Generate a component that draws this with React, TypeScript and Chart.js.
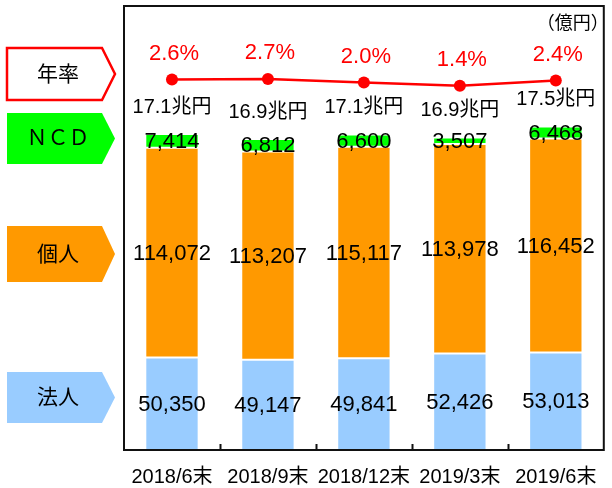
import React, { useEffect, useRef } from "react";
import { Chart, registerables } from "chart.js";

Chart.register(...registerables);

const categories = ["2018/6末", "2018/9末", "2018/12末", "2019/3末", "2019/6末"];
const corporate = [50350, 49147, 49841, 52426, 53013];
const individual = [114072, 113207, 115117, 113978, 116452];
const ncd = [7414, 6812, 6600, 3507, 6468];
const annualRate = [2.6, 2.7, 2.0, 1.4, 2.4];
const totalLabels = ["17.1兆円", "16.9兆円", "17.1兆円", "16.9兆円", "17.5兆円"];
const seriesNames = { corporate: "法人", individual: "個人", ncd: "ＮＣＤ", rate: "年率" };
const unitLabel = "（億円）";

const FONT = "'Liberation Sans', 'Noto Sans CJK JP', Arial, sans-serif";
const COLORS = {
  corporate: "#99CCFF",
  individual: "#FF9900",
  ncd: "#00FF00",
  rate: "#FF0000",
};

const fmt = (v: number) => v.toLocaleString("en-US");

const overlayPlugin = {
  id: "overlay",
  afterDatasetsDraw(chart: any) {
    const ctx = chart.ctx;
    const area = chart.chartArea;
    const xScale = chart.scales.x;
    ctx.save();

    // frame
    ctx.strokeStyle = "#111";
    ctx.lineWidth = 2;
    ctx.beginPath();
    ctx.rect(area.left, area.top, area.right - area.left, area.bottom - area.top);
    ctx.stroke();
    // inner ticks (upward) at category boundaries
    const n = categories.length;
    for (let i = 0; i < n - 1; i++) {
      const bx = (xScale.getPixelForValue(i) + xScale.getPixelForValue(i + 1)) / 2;
      ctx.beginPath();
      ctx.moveTo(Math.round(bx) + 0.5, area.bottom);
      ctx.lineTo(Math.round(bx) + 0.5, area.bottom - 6);
      ctx.stroke();
    }

    // segment value labels
    ctx.fillStyle = "#000";
    ctx.textAlign = "center";
    ctx.textBaseline = "middle";
    ctx.font = `22px ${FONT}`;
    const barSets = [0, 1, 2];
    barSets.forEach((di) => {
      const meta = chart.getDatasetMeta(di);
      const ds = chart.data.datasets[di];
      meta.data.forEach((el: any, i: number) => {
        const cy = (el.y + el.base) / 2;
        ctx.fillText(fmt(ds.data[i]), el.x, cy + 1);
      });
    });

    // totals above stacks
    ctx.font = `20px ${FONT}`;
    const topMeta = chart.getDatasetMeta(2);
    topMeta.data.forEach((el: any, i: number) => {
      ctx.fillText(totalLabels[i], el.x, el.y - 27);
    });

    // rate labels
    const lineMeta = chart.getDatasetMeta(3);
    ctx.fillStyle = COLORS.rate;
    ctx.font = `22px ${FONT}`;
    lineMeta.data.forEach((el: any, i: number) => {
      ctx.fillText(`${annualRate[i].toFixed(1)}%`, el.x + 2, el.y - 26);
    });

    // unit label
    ctx.fillStyle = "#000";
    ctx.font = `18px ${FONT}`;
    ctx.textAlign = "right";
    ctx.fillText(unitLabel, area.right + 5, 24);

    // left legend arrows
    const boxes = [
      { name: seriesNames.rate, top: 48, bottom: 100, fill: "#FFFFFF", stroke: COLORS.rate },
      { name: seriesNames.ncd, top: 113, bottom: 164, fill: COLORS.ncd, stroke: null },
      { name: seriesNames.individual, top: 226, bottom: 282, fill: COLORS.individual, stroke: null },
      { name: seriesNames.corporate, top: 372, bottom: 423, fill: COLORS.corporate, stroke: null },
    ];
    boxes.forEach((b) => {
      const mid = (b.top + b.bottom) / 2;
      ctx.beginPath();
      ctx.moveTo(7, b.top);
      ctx.lineTo(102, b.top);
      ctx.lineTo(115, mid);
      ctx.lineTo(102, b.bottom);
      ctx.lineTo(7, b.bottom);
      ctx.closePath();
      ctx.fillStyle = b.fill;
      ctx.fill();
      if (b.stroke) {
        ctx.strokeStyle = b.stroke;
        ctx.lineWidth = 2.5;
        ctx.stroke();
      }
      ctx.fillStyle = "#000";
      ctx.font = `21px ${FONT}`;
      ctx.textAlign = "center";
      ctx.textBaseline = "middle";
      ctx.fillText(b.name, 58, mid + 1);
    });

    ctx.restore();
  },
};

export default function App() {
  const ref = useRef<HTMLCanvasElement | null>(null);

  useEffect(() => {
    document.body.style.margin = "0";
    if (!ref.current) return;
    Chart.defaults.font.family = FONT;
    const chart = new Chart(ref.current, {
      type: "bar",
      data: {
        labels: categories,
        datasets: [
          {
            type: "bar",
            label: seriesNames.corporate,
            data: corporate,
            backgroundColor: COLORS.corporate,
            borderColor: "#FFFFFF",
            borderWidth: 1,
            borderSkipped: false,
            stack: "deposit",
            yAxisID: "y",
            order: 2,
          },
          {
            type: "bar",
            label: seriesNames.individual,
            data: individual,
            backgroundColor: COLORS.individual,
            borderColor: "#FFFFFF",
            borderWidth: 1,
            borderSkipped: false,
            stack: "deposit",
            yAxisID: "y",
            order: 2,
          },
          {
            type: "bar",
            label: seriesNames.ncd,
            data: ncd,
            backgroundColor: COLORS.ncd,
            borderColor: "#FFFFFF",
            borderWidth: 1,
            borderSkipped: false,
            stack: "deposit",
            yAxisID: "y",
            order: 2,
          },
          {
            type: "line",
            label: seriesNames.rate,
            data: annualRate,
            borderColor: COLORS.rate,
            backgroundColor: COLORS.rate,
            borderWidth: 2.5,
            pointRadius: 6,
            pointBackgroundColor: COLORS.rate,
            pointBorderWidth: 0,
            tension: 0,
            yAxisID: "y1",
            stack: "rate",
            order: 1,
          } as any,
        ],
      },
      options: {
        responsive: false,
        animation: false,
        layout: { padding: { left: 124, top: 5, right: 3, bottom: 0 } },
        datasets: { bar: { barPercentage: 0.556, categoryPercentage: 1 } },
        plugins: { legend: { display: false }, tooltip: { enabled: false } },
        scales: {
          x: {
            type: "category",
            offset: true,
            grid: { display: false, drawTicks: false },
            border: { display: false },
            ticks: { color: "#000", font: { size: 20, family: FONT }, padding: 15, maxRotation: 0 },
            afterFit: (scale: any) => {
              scale.height = 38;
            },
          },
          y: {
            stacked: true,
            display: false,
            min: 0,
            max: 241500,
          },
          y1: {
            display: false,
            min: -69.5,
            max: 16.9,
          },
        },
      },
      plugins: [overlayPlugin],
    });
    return () => chart.destroy();
  }, []);

  return (
    <div style={{ width: 612, height: 488 }}>
      <canvas ref={ref} width={612} height={488} />
    </div>
  );
}
